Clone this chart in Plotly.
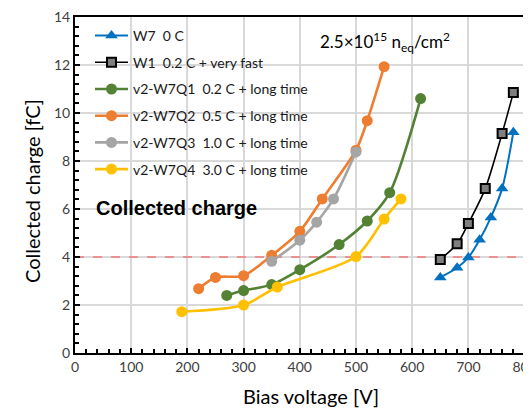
import plotly.graph_objects as go

# Data
w7_x = [650, 680, 700, 720, 740, 760, 780]
w7_y = [3.15, 3.55, 3.98, 4.72, 5.65, 6.85, 9.2]

w1_x = [650, 680, 700, 730, 760, 780]
w1_y = [3.9, 4.55, 5.4, 6.85, 9.15, 10.85]

q1_x = [270, 300, 350, 400, 470, 520, 560, 615]
q1_y = [2.4, 2.6, 2.85, 3.47, 4.52, 5.5, 6.68, 10.6]

q2_x = [220, 250, 300, 350, 400, 440, 500, 520, 550]
q2_y = [2.68, 3.15, 3.22, 4.07, 5.07, 6.42, 8.45, 9.68, 11.93]

q3_x = [350, 400, 430, 460, 500]
q3_y = [3.82, 4.7, 5.45, 6.42, 8.38]

q4_x = [190, 300, 360, 500, 550, 580]
q4_y = [1.72, 2.0, 2.75, 4.02, 5.58, 6.42]

threshold_x = [0, 785]
threshold_y = [4, 4]

NB = "\u00a0"
names = [f"W7{NB}{NB}0 C", f"W1{NB}{NB}0.2 C + very fast", f"v2-W7Q1{NB}{NB}0.2 C + long time",
         f"v2-W7Q2{NB}{NB}0.5 C + long time", f"v2-W7Q3{NB}{NB}1.0 C + long time",
         f"v2-W7Q4{NB}{NB}3.0 C + long time"]

x_ticks = [0, 100, 200, 300, 400, 500, 600, 700, 800]
y_ticks = [0, 2, 4, 6, 8, 10, 12, 14]

# page offset (browser body margin)
O = 8
FW, FH = 531 - O, 408 - O
# plot area in page pixels
L, R, T, B = 75, 531, 17, 353
W, H = R - L, B - T


def px(xp):
    return (xp - L) / W


def py(yp):
    return (B - yp) / H


fig = go.Figure()

fig.add_trace(go.Scatter(x=threshold_x, y=threshold_y, mode="lines",
                         line=dict(color="rgba(255,60,60,0.9)", width=1, dash="dash"),
                         showlegend=False, hoverinfo="skip"))

series = [
    (w7_x, w7_y, "#0070C0", dict(symbol="triangle-up", size=11, color="#0070C0"), 2),
    (w1_x, w1_y, "#000000", dict(symbol="square", size=9, color="#7F7F7F",
                                  line=dict(color="#000000", width=2)), 1.6),
    (q1_x, q1_y, "#548235", dict(symbol="circle", size=11, color="#548235"), 2.6),
    (q2_x, q2_y, "#ED7D31", dict(symbol="circle", size=11, color="#ED7D31"), 2.6),
    (q3_x, q3_y, "#A5A5A5", dict(symbol="circle", size=11, color="#A5A5A5"), 2.6),
    (q4_x, q4_y, "#FFC000", dict(symbol="circle", size=11, color="#FFC000"), 2.6),
]
for i, (xs, ys, col, mk, lw) in enumerate(series):
    fig.add_trace(go.Scatter(x=xs, y=ys, mode="lines+markers", name=names[i],
                             line=dict(color=col, width=lw, shape="spline", smoothing=0.8),
                             marker=mk, legendgroup=f"g{i}"))

fig.add_annotation(xref="paper", yref="paper", x=px(385), y=py(42),
                   text="2.5×10<sup>15</sup> n<sub>eq</sub>/cm<sup>2</sup>",
                   showarrow=False, font=dict(family="Lato", size=17, color="#000000"),
                   xanchor="center", yanchor="middle")
fig.add_annotation(xref="paper", yref="paper", x=px(94), y=py(208),
                   text="<b>Collected charge</b>", showarrow=False,
                   font=dict(family="Liberation Sans", size=20, color="#000000"),
                   xanchor="left", yanchor="middle")
# axis titles
fig.add_annotation(xref="paper", yref="paper", x=px(311), y=py(396),
                   text="Bias voltage [V]", showarrow=False,
                   font=dict(family="Lato", size=20, color="#000000"),
                   xanchor="center", yanchor="middle")
fig.add_annotation(xref="paper", yref="paper", x=px(32), y=py(191),
                   text="Collected charge [fC]", showarrow=False, textangle=-90,
                   font=dict(family="Lato", size=20, color="#000000"),
                   xanchor="center", yanchor="middle")

fig.update_layout(
    width=FW, height=FH,
    margin=dict(l=L - O, r=0, t=T - O, b=FH - (B - O), autoexpand=False),
    paper_bgcolor="white", plot_bgcolor="white",
    font=dict(family="Lato", size=13, color="#000000"),
    legend=dict(x=px(90), y=py(20), xanchor="left", yanchor="top",
                bgcolor="rgba(255,255,255,0)", font=dict(family="Lato", size=14, color="#1a1a1a"),
                tracegroupgap=5.5, traceorder="grouped", itemwidth=33),
    showlegend=True,
)
fig.update_xaxes(range=[0, 811.4], tickvals=x_ticks, ticks="inside", ticklen=5,
                 tickwidth=2, tickcolor="black", automargin=False, mirror=True,
                 ticklabeloverflow="allow",
                 minor=dict(dtick=20, ticks="inside", ticklen=4, tickwidth=1.5,
                            tickcolor="black", showgrid=False),
                 showline=True, linecolor="black", linewidth=2,
                 showgrid=True, gridcolor="#D9D9D9", gridwidth=1.5, zeroline=False,
                 tickfont=dict(family="Lato", size=14, color="#404040"))
fig.update_yaxes(range=[0, 14], tickvals=y_ticks, ticks="inside", ticklen=5,
                 tickwidth=2, tickcolor="black", automargin=False,
                 ticklabeloverflow="allow",
                 minor=dict(dtick=0.4, ticks="inside", ticklen=4, tickwidth=1.5,
                            tickcolor="black", showgrid=False),
                 showline=True, linecolor="black", linewidth=2, mirror=False,
                 showgrid=True, gridcolor="#D9D9D9", gridwidth=1.5, zeroline=False,
                 tickfont=dict(family="Lato", size=14, color="#404040"))

fig.write_html("out.html")
